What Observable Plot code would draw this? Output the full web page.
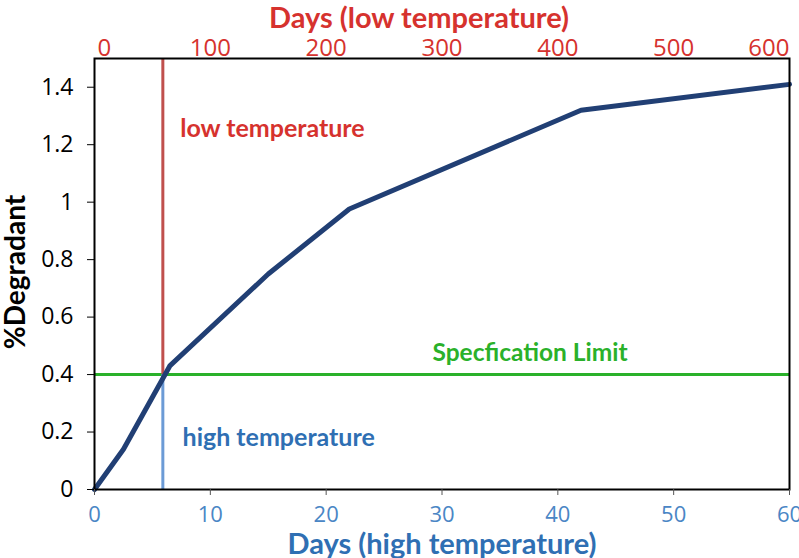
<!DOCTYPE html>
<html>
<head>
<meta charset="utf-8">
<script src="https://cdn.jsdelivr.net/npm/d3@7"></script>
<script src="https://cdn.jsdelivr.net/npm/@observablehq/plot@0.6"></script>
<style>
  body { margin: 0; background: #fff; }
  #chart svg { display: block; }
</style>
</head>
<body>
<div id="chart"></div>
<script>
// Days at high temperature (bottom axis); low-temperature days are 10x (top axis)
const highTempDays = [0, 2.5, 6.5, 15, 22, 42, 60];
const degradant    = [0, 0.14, 0.43, 0.75, 0.976, 1.32, 1.41];
const yTicks = [0, 0.2, 0.4, 0.6, 0.8, 1, 1.2, 1.4];
const xTicks = [0, 10, 20, 30, 40, 50, 60];
const specLimit = 0.4;
const crossDay = 5.9;   // day at which the curve reaches the specification limit

const curve = highTempDays.map((d, i) => ({day: d, value: degradant[i]}));
const topMid = xTicks.slice(1, -1);
const topFirst = xTicks.slice(0, 1);
const topLast = xTicks.slice(-1);

const fontFam = "Lato, 'Open Sans', sans-serif";
const numFam = "'Open Sans', sans-serif";
const navy = "#213f74", redTxt = "#d6322e", redLine = "#c0504d",
      blueTxt = "#2f6fb3", blueTick = "#4a86c5", blueLine = "#6c9bd6", green = "#2ab12a";

const topLabel = (data, anchor, dx) => Plot.text(data, {
  x: d => d, frameAnchor: "top", dy: -20, dx, textAnchor: anchor,
  text: d => String(d * 10), fontSize: 24, fontFamily: numFam, fill: redTxt
});

const chart = Plot.plot({
  width: 799,
  height: 558,
  marginLeft: 94,
  marginRight: 10,
  marginTop: 58,
  marginBottom: 69,
  style: {fontFamily: fontFam, background: "#fff"},
  x: {domain: [0, 60]},
  y: {domain: [0, 1.5]},
  marks: [
    // spec limit
    Plot.ruleY([specLimit], {stroke: green, strokeWidth: 3}),
    // vertical rules at the crossing day
    Plot.ruleX([crossDay], {y1: specLimit, y2: 1.5, stroke: redLine, strokeWidth: 3}),
    Plot.ruleX([crossDay], {y1: 0, y2: specLimit, stroke: blueLine, strokeWidth: 3}),
    // curve
    Plot.line(curve, {x: "day", y: "value", stroke: navy, strokeWidth: 5, strokeLinejoin: "round"}),
    // frame
    Plot.frame({stroke: "#000", strokeWidth: 2}),
    // y axis
    Plot.axisY({ticks: yTicks, tickSize: 7, tickPadding: 14, fontSize: 23, fontFamily: numFam,
      color: "#000", label: null, tickFormat: d => String(d)}),
    Plot.text(["%Degradant"], {frameAnchor: "left", textAnchor: "middle", dx: -78, dy: -2,
      rotate: -90, fontSize: 28, fontWeight: "bold", fill: "#000"}),
    // bottom axis
    Plot.axisX({anchor: "bottom", ticks: xTicks, tickSize: 6, tickPadding: 11, fontSize: 22,
      fontFamily: numFam, color: blueTick, stroke: "#555", label: null}),
    Plot.text(["Days (high temperature)"], {frameAnchor: "bottom", dy: 64, fontSize: 29,
      fontWeight: "bold", fill: blueTxt}),
    // top axis labels (low temperature days = 10x)
    topLabel(topMid, "middle", 0),
    topLabel(topFirst, "start", 3),
    topLabel(topLast, "end", 0),
    Plot.text(["Days (low temperature)"], {frameAnchor: "top", dx: -23, dy: -51, fontSize: 29,
      fontWeight: "bold", fill: redTxt}),
    // annotations
    Plot.text(["low temperature"], {x: 7.4, y: 1.254, textAnchor: "start", fontSize: 25,
      fontWeight: "bold", fill: redTxt}),
    Plot.text(["high temperature"], {x: 7.6, y: 0.18, textAnchor: "start", fontSize: 25,
      fontWeight: "bold", fill: blueTxt}),
    Plot.text(["Specfication Limit"], {x: 37.6, y: 0.476, fontSize: 24.5,
      fontWeight: "bold", fill: green})
  ]
});
document.getElementById("chart").appendChild(chart);
</script>
</body>
</html>
